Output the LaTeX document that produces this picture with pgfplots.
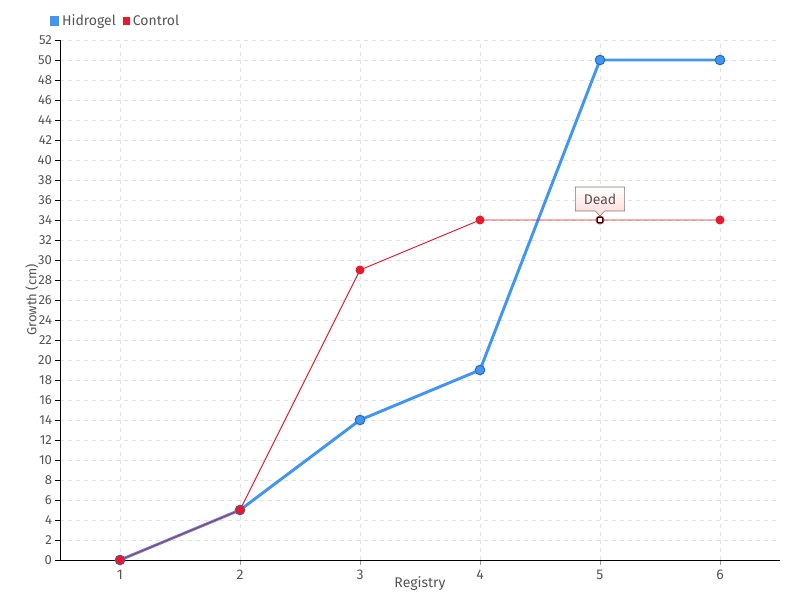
\documentclass[border=0pt]{standalone}
\usepackage{fontspec}
\setmainfont{Fira Sans}
\usepackage{pgfplots}
\pgfplotsset{compat=1.18}
\usetikzlibrary{shapes.callouts,shadings}

\definecolor{hblue}{HTML}{4096F0}
\definecolor{hblued}{HTML}{2A6FC9}
\definecolor{cred}{HTML}{E8192C}
\definecolor{txt}{HTML}{555555}
\definecolor{gridc}{HTML}{E2E2E2}

\pgfplotstableread{
x y
1 0
2 5
3 14
4 19
5 50
6 50
}\hidrogel
\pgfplotstableread{
x y
1 0
2 5
3 29
4 34
5 34
6 34
}\control

\begin{document}
\begin{tikzpicture}[font=\fontsize{10.5}{12}\selectfont]
\useasboundingbox (-45pt,-30pt) rectangle (555pt,420pt);
\begin{axis}[
  at={(0,0)}, anchor=origin,
  scale only axis,
  width=540pt, height=390pt,
  xmin=0.5, xmax=6.5,
  ymin=0, ymax=52,
  xtick={1,2,3,4,5,6},
  ytick distance=2,
  axis x line*=bottom,
  axis y line*=left,
  axis line style={black, -},
  tick style={black},
  x tick style={txt!60},
  tick align=outside,
  major tick length=4pt,
  grid=major,
  major grid style={gridc, dashed, line width=0.6pt},
  tick label style={txt},
  y tick label style={font=\fontsize{9.8}{11}\selectfont, xshift=1.5pt},
  /pgf/number format/assume math mode=true,
  xlabel={Registry},
  ylabel={Growth (cm)},
  label style={txt},
  xlabel style={at={(axis description cs:0.5,0)}, anchor=north, yshift=-9pt},
  ylabel style={at={(axis description cs:-0.039,0.5)}, anchor=center, font=\fontsize{9.8}{11}\selectfont},
  legend style={at={(axis description cs:-0.02,1.037)}, anchor=west, draw=none, fill=none,
    legend columns=-1, text=txt, font=\fontsize{10.5}{12}\selectfont,
    /tikz/every even column/.append style={column sep=3pt}},
  legend image code/.code={\fill[#1] (0pt,-2.5pt) rectangle (5pt,2.5pt);},
  clip=false,
]
\addplot[color=hblue, line width=2.2pt, mark=*, mark size=3.6pt,
  mark options={fill=hblue, draw=hblued, line width=0.8pt}] table {\hidrogel};
\addlegendentry{Hidrogel}
\addplot[color=cred, line width=0.7pt, mark=*, mark size=3pt,
  mark options={fill=cred, draw=cred}] table {\control};
\addlegendentry{Control}
\addplot[forget plot, only marks, mark=square*, mark size=2pt,
  mark options={fill=white, draw=black, line width=0.9pt}] coordinates {(5,34)};
\node[rectangle callout, draw=txt!80, top color=white, bottom color=red!15,
  text=txt, inner sep=4pt, minimum width=37pt, minimum height=18pt,
  callout absolute pointer={(axis cs:5,34.4)}] at (axis cs:5,36.1) {Dead};
\end{axis}
\end{tikzpicture}
\end{document}
